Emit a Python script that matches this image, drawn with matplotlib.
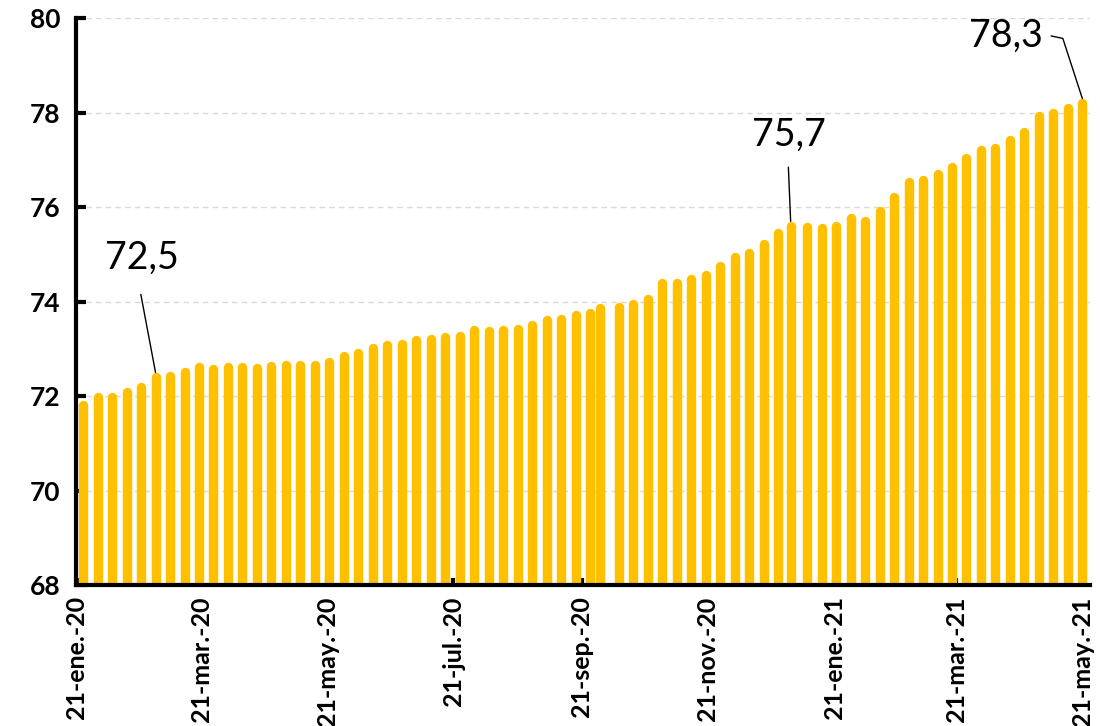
import matplotlib
matplotlib.use("Agg")
import matplotlib.pyplot as plt
import numpy as np
import pandas as pd

# weekly readings (plus two quarter-end closes)
fechas = [
    "2020-01-24", "2020-01-31", "2020-02-07", "2020-02-14", "2020-02-21", "2020-02-28",
    "2020-03-06", "2020-03-13", "2020-03-20", "2020-03-27", "2020-04-03", "2020-04-10",
    "2020-04-17", "2020-04-24", "2020-05-01", "2020-05-08", "2020-05-15", "2020-05-22",
    "2020-05-29", "2020-06-05", "2020-06-12", "2020-06-19", "2020-06-26", "2020-07-03",
    "2020-07-10", "2020-07-17", "2020-07-24", "2020-07-31", "2020-08-07", "2020-08-14",
    "2020-08-21", "2020-08-28", "2020-09-04", "2020-09-11", "2020-09-18", "2020-09-25",
    "2020-09-30", "2020-10-09", "2020-10-16", "2020-10-23", "2020-10-30", "2020-11-06",
    "2020-11-13", "2020-11-20", "2020-11-27", "2020-12-04", "2020-12-11", "2020-12-18",
    "2020-12-25", "2020-12-31", "2021-01-08", "2021-01-15", "2021-01-22", "2021-01-29",
    "2021-02-05", "2021-02-12", "2021-02-19", "2021-02-26", "2021-03-05", "2021-03-12",
    "2021-03-19", "2021-03-26", "2021-04-02", "2021-04-09", "2021-04-16", "2021-04-23",
    "2021-04-30", "2021-05-07", "2021-05-14", "2021-05-21",
]
valores = [
    71.92, 72.09, 72.08, 72.18, 72.30, 72.50,
    72.52, 72.62, 72.71, 72.68, 72.71, 72.72,
    72.70, 72.73, 72.76, 72.76, 72.76, 72.82,
    72.96, 73.01, 73.11, 73.18, 73.21, 73.28,
    73.30, 73.35, 73.38, 73.50, 73.47, 73.50,
    73.53, 73.61, 73.72, 73.74, 73.82, 73.87,
    73.97, 73.98, 74.04, 74.16, 74.50, 74.49,
    74.57, 74.66, 74.85, 75.05, 75.13, 75.33,
    75.56, 75.70, 75.69, 75.66, 75.71, 75.87,
    75.81, 76.01, 76.31, 76.64, 76.68, 76.80,
    76.96, 77.13, 77.30, 77.36, 77.52, 77.70,
    78.03, 78.09, 78.20, 78.30,
]
# bars that carry a value label
etiquetas = ["2020-02-28", "2020-12-31", "2021-05-21"]

tick_fechas = ["2020-01-21", "2020-03-21", "2020-05-21", "2020-07-21", "2020-09-21",
               "2020-11-21", "2021-01-21", "2021-03-21", "2021-05-21"]
tick_textos = ["21-ene.-20", "21-mar.-20", "21-may.-20", "21-jul.-20", "21-sep.-20",
               "21-nov.-20", "21-ene.-21", "21-mar.-21", "21-may.-21"]
y_ticks = [68, 70, 72, 74, 76, 78, 80]

plt.rcParams["font.family"] = ["Lato", "DejaVu Sans"]

x = pd.to_datetime(fechas)
y = np.array(valores)

fig = plt.figure(figsize=(11, 7.26), dpi=100)
ax = fig.add_axes([0.069, 0.194, 0.922, 0.781])

ymin, ymax = 68, 80
ax.set_ylim(ymin, ymax)
ax.set_xlim(pd.Timestamp("2020-01-20 12:00"), pd.Timestamp("2021-05-24 18:00"))

# columns with rounded tops: thick vertical lines, cap radius taken off the top
lw = 6.8
fig.canvas.draw()
h_px = ax.get_window_extent().height
r = (lw * fig.dpi / 72 / 2) * (ymax - ymin) / h_px
col = ax.vlines(x, ymin - 1, y - r, colors="#FFC000", linewidths=lw, zorder=3)
col.set_capstyle("round")

ax.set_yticks(y_ticks)
ax.set_yticklabels([str(v) for v in y_ticks], fontsize=19, fontweight="bold")
ax.set_xticks(pd.to_datetime(tick_fechas))
ax.set_xticklabels(tick_textos, rotation=90, fontsize=18, fontweight="bold")

ax.grid(axis="y", color="#d9d9d9", linestyle=(0, (4, 3)), linewidth=1, zorder=0)
ax.grid(axis="x", visible=False)

for s in ("top", "right"):
    ax.spines[s].set_visible(False)
for s in ("left", "bottom"):
    ax.spines[s].set_linewidth(3)
    ax.spines[s].set_zorder(5)
ax.tick_params(axis="y", direction="in", length=7, width=3, pad=11, colors="black")
ax.tick_params(axis="x", direction="in", length=5, width=3, pad=8, colors="black")

# value labels with leader lines
offsets = {
    "2020-02-28": ((-10, 83), "arc3", (0.44, 0.0), 12),
    "2020-12-31": ((-1, 62), "arc3", (0.48, 0.0), 8),
    "2021-05-21": ((-55, 45), "angle,angleA=-12,angleB=108,rad=0", (1.0, 0.55), 4),
}
for f in etiquetas:
    i = fechas.index(f)
    off, cs, rp, sa = offsets[f]
    txt = f"{valores[i]:.1f}".replace(".", ",")
    ax.annotate(txt, xy=(x[i], valores[i]), xytext=off, textcoords="offset points",
                ha="center", va="center", fontsize=27, color="black", zorder=6,
                arrowprops=dict(arrowstyle="-", color="black", lw=1,
                                connectionstyle=cs, relpos=rp,
                                shrinkA=sa, shrinkB=0))

fig.savefig("out.png", dpi=100, facecolor="white")
